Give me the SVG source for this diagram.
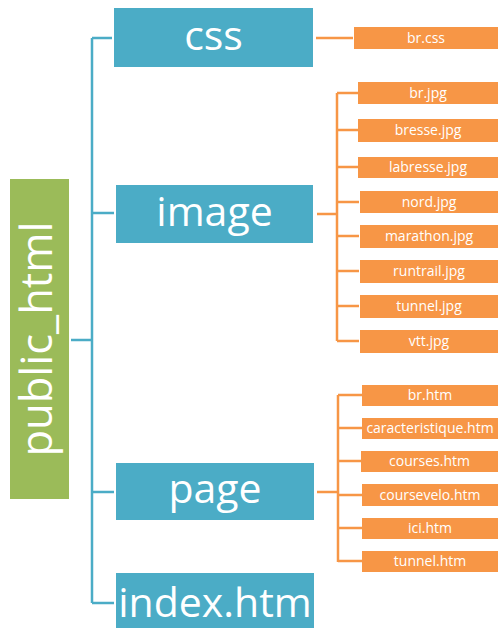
<svg xmlns="http://www.w3.org/2000/svg" width="498" height="628" viewBox="0 0 498 628">
<style>
.root{fill:#9BBB59}
.dir{fill:#4BACC6}
.file{fill:#F79646}
.big{font-family:"Open Sans","Noto Sans",sans-serif;font-size:41px;fill:#fff;text-anchor:middle}
.root-t{font-family:"Open Sans","Noto Sans",sans-serif;font-size:43.5px;fill:#fff;text-anchor:middle}
.small{font-family:"Open Sans","Noto Sans",sans-serif;font-size:14px;fill:#fff;text-anchor:middle}
.bl{fill:none;stroke:#4BACC6;stroke-width:2.5}
.ol{fill:none;stroke:#F79646;stroke-width:2.5}
</style>
<rect width="498" height="628" fill="#fff"/>
<g id="connectors">
<path class="bl" d="M71 340H92M92 38V603M92 38H112M92 213H114M92 492H114M92 603H114"/>
<path class="ol" d="M316 38H353"/>
<path class="ol" d="M317 214H337M337 93V341M337 93H358M337 130H358M337 167H358M337 202H359M337 236H359M337 271H359M337 306H359M337 341H359"/>
<path class="ol" d="M317 492H338M338 395V562M338 395H362M338 428H362M338 461H361M338 495H362M338 528H362M338 561H362"/>
</g>
<g id="public_html"><rect class="root" x="10" y="179" width="59" height="320"/><text class="root-t" x="52" y="339" dy="0" transform="rotate(-90 52 339)" dominant-baseline="alphabetic">public_html</text></g>
<g id="css"><rect class="dir" x="114" y="8" width="199" height="59"/><text class="big" x="213.5" y="50">css</text></g>
<g id="image"><rect class="dir" x="116" y="185" width="197" height="58"/><text class="big" x="214.5" y="226">image</text></g>
<g id="page"><rect class="dir" x="116" y="463" width="198" height="57"/><text class="big" x="215" y="503">page</text></g>
<g id="index"><rect class="dir" x="116" y="573" width="198" height="57"/><text class="big" x="215" y="617">index.htm</text></g>
<g id="br-css"><rect class="file" x="354" y="27" width="144" height="22"/><text class="small" x="426" y="43">br.css</text></g>
<g id="br-jpg"><rect class="file" x="358" y="82" width="140" height="22"/><text class="small" x="428" y="98">br.jpg</text></g>
<g id="bresse-jpg"><rect class="file" x="358" y="119" width="140" height="23"/><text class="small" x="428" y="135">bresse.jpg</text></g>
<g id="labresse-jpg"><rect class="file" x="358" y="157" width="140" height="21"/><text class="small" x="428" y="172">labresse.jpg</text></g>
<g id="nord-jpg"><rect class="file" x="360" y="191" width="138" height="22"/><text class="small" x="429" y="207">nord.jpg</text></g>
<g id="marathon-jpg"><rect class="file" x="360" y="225" width="138" height="23"/><text class="small" x="429" y="241">marathon.jpg</text></g>
<g id="runtrail-jpg"><rect class="file" x="360" y="260" width="138" height="23"/><text class="small" x="429" y="276">runtrail.jpg</text></g>
<g id="tunnel-jpg"><rect class="file" x="360" y="295" width="138" height="23"/><text class="small" x="429" y="311">tunnel.jpg</text></g>
<g id="vtt-jpg"><rect class="file" x="360" y="330" width="138" height="23"/><text class="small" x="429" y="346">vtt.jpg</text></g>
<g id="br-htm"><rect class="file" x="362" y="385" width="136" height="21"/><text class="small" x="430" y="400">br.htm</text></g>
<g id="caracteristique-htm"><rect class="file" x="362" y="418" width="136" height="21"/><text class="small" x="430" y="433">caracteristique.htm</text></g>
<g id="courses-htm"><rect class="file" x="361" y="451" width="137" height="21"/><text class="small" x="429.5" y="466">courses.htm</text></g>
<g id="coursevelo-htm"><rect class="file" x="362" y="484" width="136" height="22"/><text class="small" x="430" y="500">coursevelo.htm</text></g>
<g id="ici-htm"><rect class="file" x="362" y="518" width="136" height="21"/><text class="small" x="430" y="533">ici.htm</text></g>
<g id="tunnel-htm"><rect class="file" x="362" y="551" width="136" height="21"/><text class="small" x="430" y="566">tunnel.htm</text></g>
</svg>
